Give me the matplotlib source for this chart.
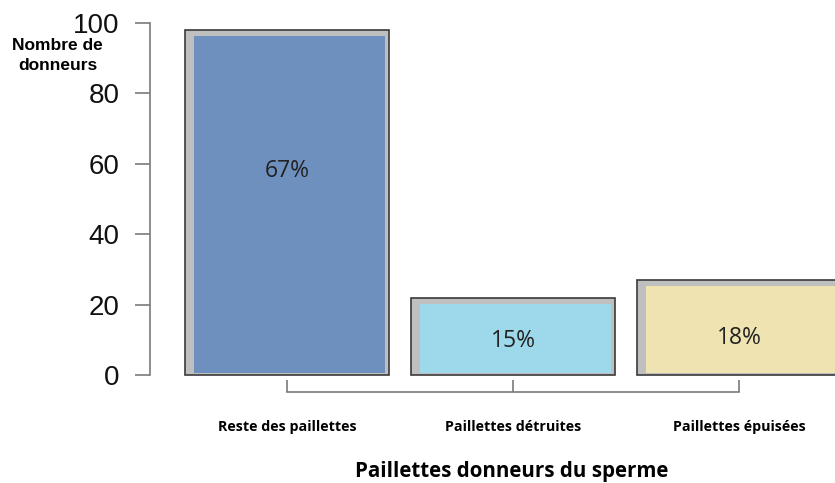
import numpy as np
import matplotlib.pyplot as plt

# data
categories = ['Reste des paillettes', 'Paillettes détruites', 'Paillettes épuisées']
donneurs = [98, 22, 27]
pourcentages = ['67%', '15%', '18%']
couleurs = ['#6e90bf', '#9dd9ea', '#efe3b1']
label_y = [58, 9.8, 10.6]

fig = plt.figure(figsize=(8.35, 4.83), dpi=100)
# axes: left spine at x=150px, y=0 at 375px, y=100 at 23px, bottom line at 392px
ax = fig.add_axes([150 / 835, (483 - 392) / 483, (835 - 150) / 835, (392 - 20) / 483])

x = np.arange(len(categories))
w = 0.9
# outer gray frame with dark outline
ax.bar(x, donneurs, width=w, color='#bfbfbf', edgecolor='#3a3a3a', linewidth=1.2, zorder=2)
# inner coloured part, slightly inset (thicker on the left like the picture)
inner_h = np.array(donneurs) - 1.8
ax.bar(x + 0.01, inner_h - 0.7, width=w - 0.055, bottom=0.7, color=couleurs,
       edgecolor='none', zorder=3)

for xi, t, yy in zip(x, pourcentages, label_y):
    ax.text(xi, yy, t, ha='center', va='center', fontsize=16.5,
            family='Open Sans', color='#222222', zorder=4)

ax.set_xlim(-0.606, 2.425)
ax.set_ylim(-4.83, 100.85)

for s in ['top', 'right']:
    ax.spines[s].set_visible(False)
ax.spines['left'].set_bounds(0, 100)
ax.spines['bottom'].set_bounds(0, 2)
for s in ['left', 'bottom']:
    ax.spines[s].set_color('#7a7a7a')
    ax.spines[s].set_linewidth(1.2)

ax.set_yticks([0, 20, 40, 60, 80, 100])
ax.tick_params(axis='y', direction='out', length=11, width=1.2, color='#7a7a7a',
               pad=11, labelsize=20, labelcolor='#111111')
for lab in ax.get_yticklabels():
    lab.set_family('Liberation Sans')

ax.set_xticks(x)
ax.set_xticklabels(categories, fontsize=10.3, fontweight='bold', family='Open Sans')
ax.tick_params(axis='x', direction='in', length=9, width=1.2, color='#7a7a7a', pad=20)

fig.text(12 / 835, 1 - 45 / 483, 'Nombre de', fontsize=12.5, fontweight='bold',
         family='Liberation Sans', ha='left', va='center')
fig.text(18 / 835, 1 - 66 / 483, 'donneurs', fontsize=12.5, fontweight='bold',
         family='Liberation Sans', ha='left', va='center')

fig.text(512 / 835, 1 - 471 / 483, 'Paillettes donneurs du sperme', fontsize=14.8,
         fontweight='bold', family='Open Sans', ha='center', va='center')

fig.savefig('out.png', dpi=100)
